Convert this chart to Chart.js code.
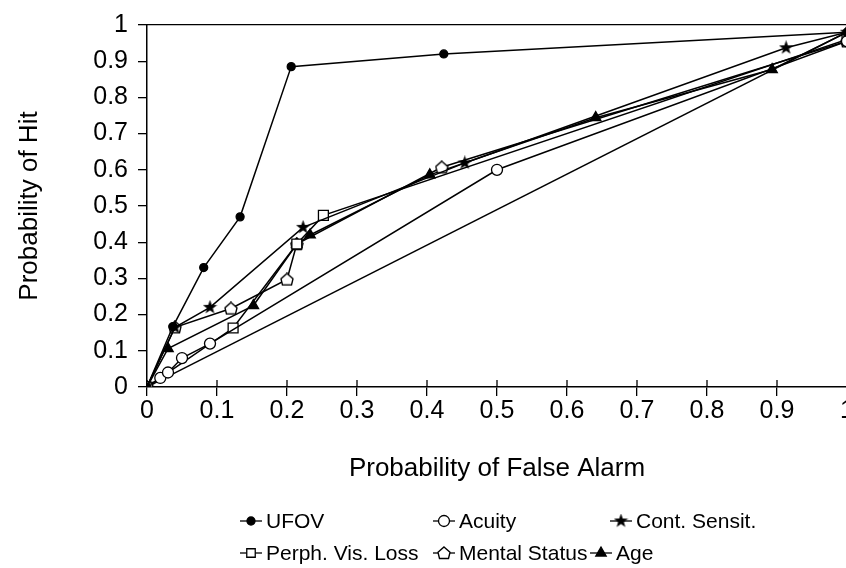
<!DOCTYPE html>
<html>
<head>
<meta charset="utf-8">
<title>ROC curves</title>
<script src="https://cdn.jsdelivr.net/npm/chart.js@4.4.1/dist/chart.umd.min.js"></script>
<style>
  html, body { margin: 0; padding: 0; background: #fff; overflow: hidden; }
</style>
</head>
<body>
<canvas id="roc" width="860" height="568"></canvas>
<script>
// ─── ROC curves: probability of hit vs false alarm, per predictor ───

const seriesNames = ['UFOV', 'Acuity', 'Cont. Sensit.', 'Perph. Vis. Loss', 'Mental Status', 'Age'];

// false alarm (x) and hit (y)
const ufovFA    = [0, 0.037, 0.081, 0.133, 0.206, 0.424, 1];
const ufovHit   = [0, 0.167, 0.33, 0.47, 0.885, 0.92, 0.98];
const acuityFA  = [0, 0.019, 0.03, 0.05, 0.09, 0.5, 1];
const acuityHit = [0, 0.025, 0.04, 0.08, 0.12, 0.6, 0.955];
const contFA    = [0, 0.04, 0.09, 0.223, 0.454, 0.913, 1];
const contHit   = [0, 0.165, 0.22, 0.441, 0.619, 0.937, 0.98];
const perphFA   = [0, 0.123, 0.214, 0.252, 1];
const perphHit  = [0, 0.163, 0.395, 0.474, 0.96];
const mentalFA  = [0, 0.04, 0.12, 0.2, 0.214, 0.421, 1];
const mentalHit = [0, 0.165, 0.217, 0.297, 0.395, 0.607, 0.955];
const ageFA     = [0, 0.03, 0.152, 0.214, 0.233, 0.404, 0.641, 0.893, 1];
const ageHit    = [0, 0.106, 0.225, 0.395, 0.42, 0.586, 0.744, 0.877, 0.98];
// chance diagonal
const chanceFA  = [0, 1];
const chanceHit = [0, 0.98];

const xTickLabels = ['0', '0.1', '0.2', '0.3', '0.4', '0.5', '0.6', '0.7', '0.8', '0.9', '1'];
const yTickLabels = ['0', '0.1', '0.2', '0.3', '0.4', '0.5', '0.6', '0.7', '0.8', '0.9', '1'];

const FONT = "'Liberation Sans', Arial, Helvetica, sans-serif";

function toPoints(xs, ys) {
    return xs.map(function(x, i) { return { x: x, y: ys[i] }; });
}

// custom marker: filled five point star
function makeStar(size) {
    const c = document.createElement('canvas');
    c.width = c.height = size;
    const g = c.getContext('2d');
    g.beginPath();
    for (let i = 0; i < 10; i++) {
        const r = i % 2 === 0 ? size / 2 : size / 5;
        const a = -Math.PI / 2 + i * Math.PI / 5;
        g.lineTo(size / 2 + r * Math.cos(a), size / 2 + r * Math.sin(a));
    }
    g.closePath();
    g.fillStyle = '#000';
    g.fill();
    return c;
}

// custom marker: open pentagon ("house")
function makePentagon(size) {
    const c = document.createElement('canvas');
    c.width = c.height = size;
    const g = c.getContext('2d');
    g.beginPath();
    g.moveTo(size / 2, 1);
    g.lineTo(size - 1, size * 0.45);
    g.lineTo(size - 2.5, size - 1.5);
    g.lineTo(2.5, size - 1.5);
    g.lineTo(1, size * 0.45);
    g.closePath();
    g.fillStyle = '#fff';
    g.fill();
    g.lineWidth = 1.4;
    g.strokeStyle = '#000';
    g.stroke();
    return c;
}

const starImg = makeStar(15);
const pentImg = makePentagon(14);

function series(label, xs, ys, style, radius, fill) {
    return {
        label: label,
        data: toPoints(xs, ys),
        showLine: true,
        borderColor: '#000',
        borderWidth: 1.5,
        pointStyle: style,
        pointRadius: radius,
        pointBackgroundColor: fill,
        pointBorderColor: '#000',
        pointBorderWidth: 1.3
    };
}

const datasets = [
    series(seriesNames[0], ufovFA, ufovHit, 'circle', 4, '#000'),
    series(seriesNames[1], acuityFA, acuityHit, 'circle', 5.5, '#fff'),
    series(seriesNames[2], contFA, contHit, starImg, 7, '#000'),
    series(seriesNames[3], perphFA, perphHit, 'rect', 7, '#fff'),
    series(seriesNames[4], mentalFA, mentalHit, pentImg, 7, '#fff'),
    series(seriesNames[5], ageFA, ageHit, 'triangle', 6, '#000'),
    series('chance', chanceFA, chanceHit, 'circle', 0, '#000')
];

// legend laid out in two rows like the printed figure
const legendSpots = [[240, 521], [433, 521], [610, 521], [240, 553], [433, 553], [590, 553]];

const legendPlugin = {
    id: 'printLegend',
    afterDraw: function(chart) {
        const ctx = chart.ctx;
        ctx.save();
        ctx.font = '21px ' + FONT;
        ctx.textBaseline = 'middle';
        ctx.textAlign = 'left';
        for (let i = 0; i < seriesNames.length; i++) {
            const ds = chart.data.datasets[i];
            const x = legendSpots[i][0], y = legendSpots[i][1];
            ctx.strokeStyle = '#000';
            ctx.lineWidth = 1.3;
            ctx.beginPath();
            ctx.moveTo(x, y);
            ctx.lineTo(x + 22, y);
            ctx.stroke();
            ctx.fillStyle = ds.pointBackgroundColor;
            Chart.helpers.drawPoint(ctx, {
                pointStyle: ds.pointStyle,
                radius: Math.min(ds.pointRadius, 6),
                borderWidth: 1.3,
                rotation: 0
            }, x + 11, y);
            ctx.fillStyle = '#000';
            ctx.fillText(seriesNames[i], x + 26, y + 1);
        }
        ctx.restore();
    }
};

// x tick marks cross the axis line, as in the print
const innerTicks = {
    id: 'innerTicks',
    afterDraw: function(chart) {
        const sx = chart.scales.x;
        const ctx = chart.ctx;
        const bottom = chart.chartArea.bottom;
        ctx.save();
        ctx.strokeStyle = '#000';
        ctx.lineWidth = 1.3;
        for (let i = 1; i < xTickLabels.length; i++) {
            const px = sx.getPixelForValue(i / 10);
            ctx.beginPath();
            ctx.moveTo(px, bottom - 7);
            ctx.lineTo(px, bottom);
            ctx.stroke();
        }
        ctx.restore();
    }
};

const ctx = document.getElementById('roc').getContext('2d');
const chart = new Chart(ctx, {
    type: 'scatter',
    data: { datasets: datasets },
    plugins: [legendPlugin, innerTicks],
    options: {
        responsive: false,
        animation: false,
        layout: { padding: { top: 19, right: 13, bottom: 81, left: 0 } },
        plugins: {
            legend: { display: false },
            tooltip: { enabled: false }
        },
        scales: {
            x: {
                type: 'linear',
                min: 0, max: 1,
                afterFit: function(s) { s.height = 100; },
                grid: { drawOnChartArea: false, drawTicks: true, tickLength: 9, color: '#000', lineWidth: 1.3 },
                border: { display: true, color: '#000', width: 1.5 },
                ticks: {
                    stepSize: 0.1,
                    color: '#000',
                    padding: 0,
                    font: { family: FONT, size: 25 },
                    maxRotation: 0,
                    callback: function(v) { return xTickLabels[Math.round(v * 10)]; }
                },
                title: {
                    display: true,
                    text: 'Probability of False Alarm',
                    color: '#000',
                    font: { family: FONT, size: 26 },
                    padding: { top: 0, bottom: 3 }
                }
            },
            x2: {
                type: 'linear',
                position: 'top',
                min: 0, max: 1,
                afterFit: function(s) { s.height = 0; },
                grid: { display: false },
                border: { display: true, color: '#000', width: 1.3 },
                ticks: { display: false }
            },
            y: {
                min: 0, max: 1,
                afterFit: function(s) { s.width = 147; },
                grid: { drawOnChartArea: false, drawTicks: true, tickLength: 9, color: '#000', lineWidth: 1.3 },
                border: { display: true, color: '#000', width: 1.5 },
                ticks: {
                    stepSize: 0.1,
                    color: '#000',
                    padding: 10,
                    font: { family: FONT, size: 25 },
                    callback: function(v) { return yTickLabels[Math.round(v * 10)]; }
                },
                title: {
                    display: true,
                    text: 'Probability of Hit',
                    color: '#000',
                    font: { family: FONT, size: 26 },
                    padding: { top: 14, bottom: 0 }
                }
            }
        }
    }
});
</script>
</body>
</html>
